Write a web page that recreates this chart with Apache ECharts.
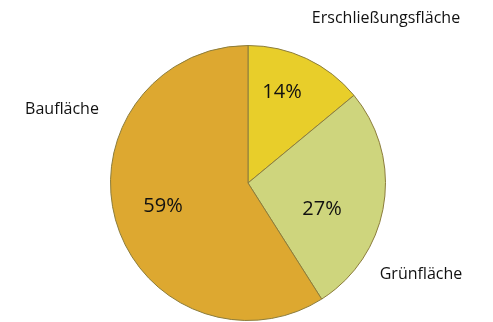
<!DOCTYPE html>
<html>
<head>
<meta charset="utf-8">
<style>
  html, body { margin: 0; padding: 0; background: #ffffff; }
  #chart { width: 493px; height: 322px; }
</style>
<script src="https://cdn.jsdelivr.net/npm/echarts@6/dist/echarts.min.js"></script>
</head>
<body>
<div id="chart"></div>
<script>
// Flächenanteile (Prozent)
const categories = ['Erschließungsfläche', 'Grünfläche', 'Baufläche'];
const shares = [14, 27, 59];
const colors = ['#E8CE2A', '#CED57D', '#DDA830'];

// Anker der Beschriftungen (Prozent innen, Namen außen)
const valueLabelPos = [[282, 92], [322, 209], [163, 206]];
const nameLabelPos = [[386, 18], [421, 274], [62, 109]];

const chart = echarts.init(document.getElementById('chart'), null, { renderer: 'canvas' });

const data = categories.map((name, i) => ({
  name: name,
  value: shares[i],
  itemStyle: { color: colors[i] }
}));

const baseSeries = {
  type: 'pie',
  center: [248, 183],
  radius: 137.5,
  startAngle: 90,
  clockwise: true,
  animation: false,
  silent: true,
  labelLine: { show: false }
};

chart.setOption({
  backgroundColor: '#ffffff',
  series: [
    Object.assign({}, baseSeries, {
      data: data,
      itemStyle: { borderColor: '#8C7D3C', borderWidth: 1 },
      label: {
        show: true,
        position: 'inside',
        formatter: p => p.value + '%',
        fontFamily: 'Open Sans',
        fontSize: 20,
        color: '#111111'
      },
      labelLayout: p => ({
        x: valueLabelPos[p.dataIndex][0],
        y: valueLabelPos[p.dataIndex][1],
        align: 'center',
        verticalAlign: 'middle'
      })
    }),
    // Namen der Flächen außerhalb des Kreises
    Object.assign({}, baseSeries, {
      data: data.map(d => ({ name: d.name, value: d.value })),
      itemStyle: { color: 'rgba(0,0,0,0)', borderWidth: 0 },
      label: {
        show: true,
        position: 'inside',
        formatter: p => p.name,
        fontFamily: 'Open Sans',
        fontSize: 16,
        color: '#111111',
        overflow: 'none'
      },
      labelLayout: p => ({
        x: nameLabelPos[p.dataIndex][0],
        y: nameLabelPos[p.dataIndex][1],
        align: 'center',
        verticalAlign: 'middle'
      })
    })
  ]
});
</script>
</body>
</html>
